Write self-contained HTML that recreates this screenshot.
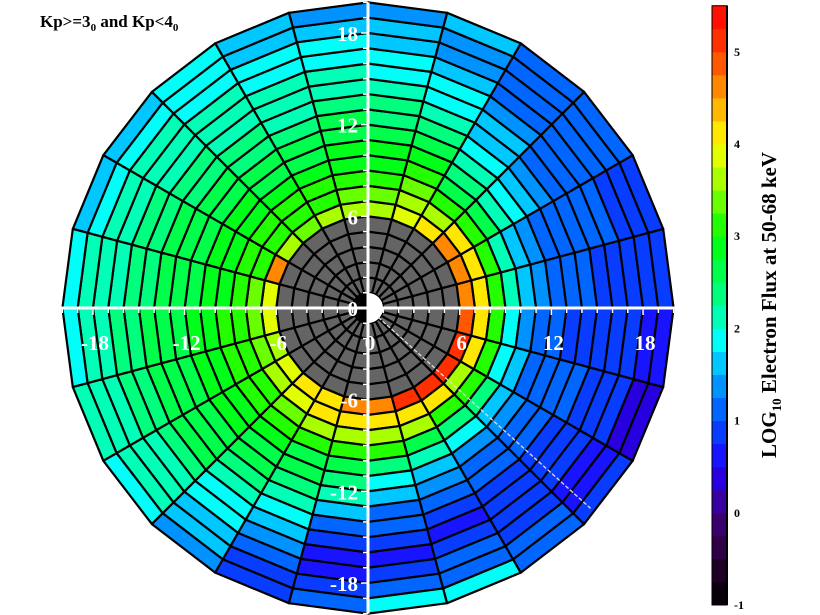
<!DOCTYPE html>
<html><head><meta charset="utf-8">
<style>
html,body{margin:0;padding:0;background:#fff;}
svg{display:block;font-family:"Liberation Serif",serif;font-weight:bold;}
</style></head>
<body>
<svg id="chart" width="820" height="615" viewBox="0 0 820 615" xmlns="http://www.w3.org/2000/svg">
<text x="40" y="27" font-size="17" fill="#000">Kp&gt;=3<tspan font-size="11" dy="4">0</tspan><tspan dy="-4"> and Kp&lt;4</tspan><tspan font-size="11" dy="4">0</tspan></text>
<g id="cells"></g>
<g id="axes"></g>
<g id="cbar"></g>
<text transform="translate(776,305) rotate(-90)" text-anchor="middle" font-size="21" fill="#000">LOG<tspan font-size="13" dy="5">10</tspan><tspan dy="-5"> Electron Flux at 50-68 keV</tspan></text>
</svg>
<script>
// sector start angles (deg, counter-clockwise from +X), 15 deg each
const sectorAngles = [0,15,30,45,60,75,90,105,120,135,150,165,180,195,210,225,240,255,270,285,300,315,330,345];
// inner radius of measured rings (Re); rings are 1 Re wide; r 1..5 no data (gray)
const ringInner = [6,7,8,9,10,11,12,13,14,15,16,17,18,19];
const grayRings = [1,2,3,4,5];
// log10 flux per sector (rows) per ring (columns)
const flux = [
 [4.7,4.0,3.0,2.0,1.5,1.3,1.2,1.1,1.0,0.9,0.9,0.8,0.75,0.8],
 [4.6,4.0,3.0,2.2,1.6,1.4,1.2,1.1,1.0,1.0,1.0,0.9,0.9,0.9],
 [4.5,4.0,3.2,2.6,2.0,1.8,1.5,1.3,1.2,1.1,1.0,1.0,1.0,1.0],
 [4.2,3.6,3.1,2.7,2.4,2.1,1.9,1.7,1.5,1.35,1.2,1.2,1.2,1.2],
 [3.9,3.6,3.3,3.0,2.8,2.6,2.4,2.2,1.9,1.8,1.6,1.45,1.4,1.6],
 [3.6,3.3,3.0,2.9,2.75,2.5,2.4,2.25,2.1,1.9,1.8,1.6,1.5,1.4],
 [3.6,3.3,3.0,2.9,2.8,2.6,2.5,2.3,2.2,2.0,1.9,1.8,1.5,1.4],
 [3.5,3.2,3.0,2.9,2.7,2.5,2.4,2.2,2.1,2.0,1.9,1.8,1.6,1.7],
 [3.3,3.1,3.0,2.9,2.7,2.6,2.4,2.3,2.2,2.1,2.0,1.9,1.8,1.8],
 [3.5,3.1,3.0,2.9,2.8,2.6,2.5,2.4,2.3,2.2,2.1,2.0,1.8,1.6],
 [4.5,3.2,3.0,2.9,2.8,2.7,2.6,2.5,2.4,2.3,2.2,2.1,1.9,1.5],
 [3.9,3.3,3.0,2.9,2.8,2.7,2.6,2.5,2.4,2.3,2.2,2.1,2.0,1.9],
 [3.8,3.3,3.0,3.0,2.9,2.8,2.7,2.6,2.5,2.4,2.3,2.2,2.1,1.9],
 [3.7,3.4,3.1,3.0,2.9,2.8,2.7,2.6,2.5,2.4,2.3,2.2,2.1,2.1],
 [3.9,3.5,3.2,3.0,2.9,2.8,2.7,2.6,2.5,2.3,2.2,2.1,2.0,1.9],
 [4.0,3.8,3.4,3.1,2.9,2.7,2.5,2.3,2.1,1.9,1.8,1.7,1.5,1.3],
 [4.2,4.0,3.6,3.1,2.7,2.5,2.3,2.1,1.9,1.6,1.3,1.1,0.9,0.9],
 [4.5,4.1,3.7,3.2,2.7,2.3,2.0,1.7,1.2,0.9,0.7,0.7,0.8,1.2],
 [4.6,4.1,3.6,3.0,2.3,1.9,1.5,1.2,1.0,0.8,0.7,0.8,1.0,1.8],
 [5.0,4.1,3.5,2.6,2.0,1.7,1.3,1.1,0.9,0.7,0.8,1.0,1.2,1.9],
 [5.0,4.0,3.2,2.4,1.8,1.3,1.1,1.0,0.9,0.9,0.9,0.9,1.0,1.2],
 [5.0,3.7,3.0,2.3,1.6,1.4,1.1,1.0,0.9,0.9,0.8,0.7,0.7,0.8],
 [5.0,4.0,3.0,1.9,1.5,1.2,1.0,1.0,1.0,0.9,0.9,0.8,0.4,0.4],
 [4.9,4.0,3.1,1.9,1.4,1.2,1.0,0.9,0.9,0.85,0.8,0.8,0.7,0.7]
];
const axisTicks = [-18,-12,-6,0,6,12,18];
const cbarTicks = [-1,0,1,2,3,4,5];

const NS='http://www.w3.org/2000/svg';
const cx=368, cy=308, scale=15.28, sectorWidth=15;
const vmin=-1, vmax=5.5, step=0.25;
const cbX=712, cbW=15, cbY0=605, cbPer=92.2;
function px(r,a){return cx + r*scale*Math.cos(a*Math.PI/180);}
function py(r,a){return cy - r*scale*Math.sin(a*Math.PI/180);}
function xs(v){return cx + v*scale;}
function ys(v){return cy - v*scale;}
function cbY(v){return cbY0 - (v-vmin)*cbPer;}
const stops=[[-1,[0,0,0]],[-0.5,[40,0,50]],[0,[64,0,128]],[0.5,[32,0,255]],[1,[0,80,255]],[1.5,[0,168,255]],[1.85,[0,255,255]],[2.25,[0,255,150]],[3,[0,255,0]],[3.5,[140,255,0]],[4,[255,255,0]],[4.5,[255,160,0]],[5,[255,64,0]],[5.5,[255,0,0]]];
function color(v){
  v=Math.floor((v-vmin)/step)*step+vmin+step/2;
  v=Math.max(vmin,Math.min(vmax,v));
  for(let i=0;i<stops.length-1;i++){
    const [a,ca]=stops[i],[b,cb]=stops[i+1];
    if(v<=b){const t=(v-a)/(b-a);
      return 'rgb('+ca.map((c,k)=>Math.round(c+(cb[k]-c)*t)).join(',')+')';}
  }
  return 'rgb(255,0,0)';
}
function el(tag,attrs,parent){const e=document.createElementNS(NS,tag);for(const k in attrs)e.setAttribute(k,attrs[k]);parent.appendChild(e);return e;}
function quad(r0,r1,a0,a1){
  return [[r0,a0],[r1,a0],[r1,a1],[r0,a1]].map(p=>px(p[0],p[1]).toFixed(2)+','+py(p[0],p[1]).toFixed(2)).join(' ');
}
const cells=document.getElementById('cells');
sectorAngles.forEach((a0,s)=>{
  grayRings.forEach(r=>{
    const p=el('polygon',{points:quad(r,r+1,a0,a0+sectorWidth),fill:'#646464',stroke:'#000','stroke-width':2.2,'stroke-linejoin':'round'},cells);
    
    
  });
  ringInner.forEach((r,j)=>{
    const v=flux[s][j];
    const p=el('polygon',{points:quad(r,r+1,a0,a0+sectorWidth),fill:color(v),stroke:'#000','stroke-width':2.2,'stroke-linejoin':'round'},cells);
    
    
  });
});
const axes=document.getElementById('axes');
const dl=el('line',{x1:px(0.9,-42),y1:py(0.9,-42),x2:px(19.6,-42),y2:py(19.6,-42),stroke:'#ddd','stroke-width':1.3,'stroke-dasharray':'4,2'},axes);


const ew=el('path',{d:`M${cx},${cy-15} A15,15 0 0 1 ${cx},${cy+15} Z`,fill:'#fff'},axes);


const eb=el('path',{d:`M${cx},${cy-15} A15,15 0 0 0 ${cx},${cy+15} Z`,fill:'#000'},axes);


const hx=el('line',{x1:xs(-20.1),y1:cy,x2:xs(20.1),y2:cy,stroke:'#fff','stroke-width':3},axes);


const vy=el('line',{x1:cx,y1:ys(20),x2:cx,y2:ys(-20),stroke:'#fff','stroke-width':3},axes);


for(let v=-20;v<=20;v++){
  const len=(v%6===0)?7:5;
  const t1=el('line',{x1:xs(v),y1:cy,x2:xs(v),y2:cy+len,stroke:'#fff','stroke-width':1.5},axes);
  
  
  const t2=el('line',{x1:cx-len,y1:ys(v),x2:cx,y2:ys(v),stroke:'#fff','stroke-width':1.5},axes);
  
  
}
axisTicks.forEach(v=>{
  const tx=el('text',{x:xs(v)+2,y:cy+42,'text-anchor':'middle','font-size':21,fill:'#fff'},axes);
  tx.textContent=v;
  
  
  const ty=el('text',{x:cx-10,y:ys(v)+8,'text-anchor':'end','font-size':21,fill:'#fff'},axes);
  ty.textContent=v;
  
  
});
const cbar=document.getElementById('cbar');
for(let v=vmin; v<vmax-1e-9; v+=step){
  const r=el('rect',{x:cbX,y:cbY(v+step),width:cbW,height:cbY(v)-cbY(v+step)+0.5,fill:color(v+step/2)},cbar);
  
  
}
const cbo=el('rect',{x:cbX,y:cbY(vmax),width:cbW,height:cbY(vmin)-cbY(vmax),fill:'none',stroke:'#000','stroke-width':1},cbar);


const cbl=el('line',{x1:cbX+cbW,y1:cbY(vmax),x2:cbX+cbW,y2:cbY(vmin),stroke:'#000','stroke-width':2},cbar);


cbarTicks.forEach(v=>{
  const t=el('text',{x:cbX+cbW+7,y:cbY(v)+4,'font-size':12,fill:'#000'},cbar);
  t.textContent=v;
  
  
});
</script>
</body></html>
